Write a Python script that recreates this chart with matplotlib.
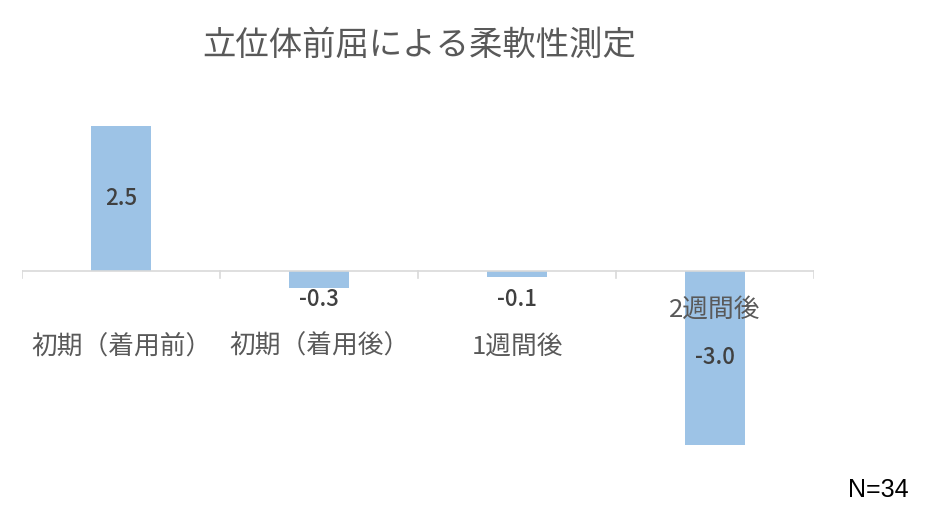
import matplotlib
matplotlib.use('Agg')
import matplotlib.pyplot as plt

plt.rcParams['font.family'] = ['Noto Sans CJK JP', 'DejaVu Sans']

# data
categories = ['初期（着用前）', '初期（着用後）', '1週間後', '2週間後']
values = [2.5, -0.3, -0.1, -3.0]
value_texts = ['2.5', '-0.3', '-0.1', '-3.0']
title = '立位体前屈による柔軟性測定'
note = 'N=34'

bar_color = '#9DC3E6'
text_gray = '#595959'

fig = plt.figure(figsize=(9.4, 5.29), dpi=100)
ax = fig.add_axes([0.0234, 0.104, 0.8426, 0.7127])

x = list(range(len(categories)))
ax.bar(x, values, width=0.3, color=bar_color, zorder=2)
ax.set_xlim(-0.5, len(categories) - 0.5)
ax.set_ylim(-3.5, 3.0)

# horizontal axis line with tick marks between categories
ax.axhline(0, color='#D9D9D9', lw=1.2, zorder=3)
for b in range(len(categories) + 1):
    ax.plot([b - 0.5, b - 0.5], [0, -0.12], color='#D9D9D9', lw=1.2, zorder=3)

for s in ax.spines.values():
    s.set_visible(False)
ax.set_xticks([])
ax.set_yticks([])

# value labels: inside tall bars, below short ones
for i, v in enumerate(values):
    if abs(v) > 1:
        y = v / 2
    else:
        y = -0.5
    ax.text(i, y, value_texts[i], ha='center', va='center', fontsize=16,
            color='#404040', fontweight='medium')

# category labels (the last one sits higher, over the bar)
label_y = [-1.31, -1.31, -1.31, -0.67]
for i, c in enumerate(categories):
    ax.text(i, label_y[i], c, ha='center', va='center', fontsize=18.5,
            color=text_gray, zorder=4)

fig.text(0.446, 0.915, title, ha='center', va='center', fontsize=24,
         color=text_gray)
fig.text(0.934, 0.073, note, ha='center', va='center', fontsize=18,
         color='black', family=['Liberation Sans', 'DejaVu Sans'])

fig.savefig('out.png', dpi=100, facecolor='white')
